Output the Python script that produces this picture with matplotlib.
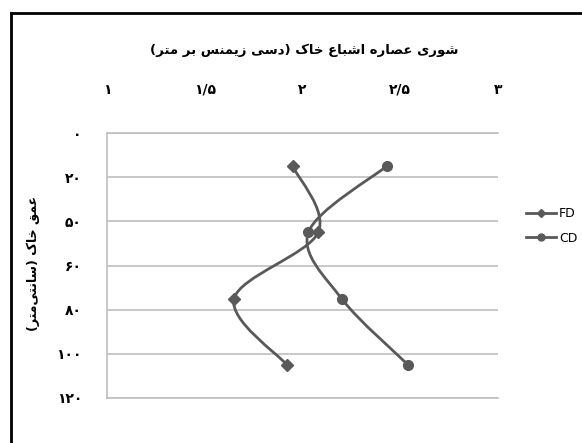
import matplotlib
matplotlib.use("Agg")
import matplotlib.pyplot as plt
from matplotlib.path import Path
from matplotlib.patches import PathPatch
from matplotlib.lines import Line2D
import numpy as np

# sample depths (cm) and saturated paste salinity (dS/m)
depth = [15, 45, 75, 105]
fd_ec = [1.95, 2.08, 1.65, 1.92]
cd_ec = [2.43, 2.03, 2.20, 2.54]
series_names = ['FD', 'CD']

x_ticks = [1, 1.5, 2, 2.5, 3]
x_labels = ['۱', '۱/۵', '۲', '۲/۵', '۳']
y_ticks = [0, 20, 40, 60, 80, 100, 120]
y_labels = ['۰', '۲۰', '۵۰', '۶۰', '۸۰', '۱۰۰', '۱۲۰']

title = 'شوری عصاره اشباع خاک (دسی زیمنس بر متر)'
ylabel = 'عمق خاک (سانتی\u200cمتر)'

GREY = '#595959'

# presentation forms: isolated, final, initial, medial
FORMS = {
    'ا': ('\uFE8D', '\uFE8E', None, None),
    'ب': ('\uFE8F', '\uFE90', '\uFE91', '\uFE92'),
    'ت': ('\uFE95', '\uFE96', '\uFE97', '\uFE98'),
    'خ': ('\uFEA5', '\uFEA6', '\uFEA7', '\uFEA8'),
    'د': ('\uFEA9', '\uFEAA', None, None),
    'ر': ('\uFEAD', '\uFEAE', None, None),
    'ز': ('\uFEAF', '\uFEB0', None, None),
    'س': ('\uFEB1', '\uFEB2', '\uFEB3', '\uFEB4'),
    'ش': ('\uFEB5', '\uFEB6', '\uFEB7', '\uFEB8'),
    'ص': ('\uFEB9', '\uFEBA', '\uFEBB', '\uFEBC'),
    'ع': ('\uFEC9', '\uFECA', '\uFECB', '\uFECC'),
    'ق': ('\uFED5', '\uFED6', '\uFED7', '\uFED8'),
    'م': ('\uFEE1', '\uFEE2', '\uFEE3', '\uFEE4'),
    'ن': ('\uFEE5', '\uFEE6', '\uFEE7', '\uFEE8'),
    'ه': ('\uFEE9', '\uFEEA', '\uFEEB', '\uFEEC'),
    'و': ('\uFEED', '\uFEEE', None, None),
    'ک': ('\uFB8E', '\uFB8F', '\uFB90', '\uFB91'),
    'ی': ('\uFBFC', '\uFBFD', '\uFBFE', '\uFBFF'),
}


def shape_fa(text):
    """Join Persian letters and put them in visual (left to right) order."""
    out = []
    for i, ch in enumerate(text):
        if ch == '\u200c':
            continue
        if ch not in FORMS:
            out.append(ch)
            continue
        prev = text[i - 1] if i > 0 else ''
        nxt = text[i + 1] if i + 1 < len(text) else ''
        join_prev = prev in FORMS and FORMS[prev][2] is not None
        join_next = nxt in FORMS and FORMS[ch][2] is not None
        f = FORMS[ch]
        if join_prev and join_next:
            out.append(f[3])
        elif join_prev:
            out.append(f[1])
        elif join_next:
            out.append(f[2])
        else:
            out.append(f[0])
    vis = ''.join(reversed(out))
    return vis.translate(str.maketrans('()', ')('))


def smooth_path(xs, ys):
    """Excel-like smoothed line through the points."""
    pts = np.column_stack([xs, ys]).astype(float)
    n = len(pts)
    verts = [pts[0]]
    codes = [Path.MOVETO]
    for i in range(n - 1):
        p0 = pts[max(i - 1, 0)]
        p1 = pts[i]
        p2 = pts[i + 1]
        p3 = pts[min(i + 2, n - 1)]
        verts += [p1 + (p2 - p0) / 6, p2 - (p3 - p1) / 6, p2]
        codes += [Path.CURVE4] * 3
    return Path(verts, codes)


plt.rcParams['font.family'] = ['DejaVu Sans']

fig = plt.figure(figsize=(5.82, 4.43), dpi=100)
ax = fig.add_axes([0.1838, 0.1016, 0.672, 0.598])

for vals, marker, size in [(fd_ec, 'D', 6), (cd_ec, 'o', 7)]:
    ax.add_patch(PathPatch(smooth_path(vals, depth), facecolor='none',
                           edgecolor=GREY, lw=2, zorder=3))
    ax.plot(vals, depth, linestyle='none', marker=marker, ms=size,
            color=GREY, zorder=4)

ax.set_xlim(1, 3)
ax.set_ylim(120, 0)
ax.set_xticks(x_ticks)
ax.set_xticklabels(x_labels, fontsize=10, fontweight='bold')
ax.set_yticks(y_ticks)
ax.set_yticklabels(y_labels, fontsize=10, fontweight='bold')
ax.xaxis.tick_top()
ax.tick_params(axis='x', length=0, pad=26)
ax.tick_params(axis='y', length=0, pad=18)
ax.grid(axis='y', color='#bfbfbf', lw=1.2)
ax.set_axisbelow(True)
ax.spines['right'].set_visible(False)
for side in ['top', 'bottom', 'left']:
    ax.spines[side].set_color('#bfbfbf')
    ax.spines[side].set_linewidth(1.2)

fig.text(0.522, 0.887, shape_fa(title), ha='center', va='center',
         fontsize=9.5, fontweight='bold')
fig.text(0.057, 0.406, shape_fa(ylabel), ha='center', va='center',
         rotation=90, fontsize=9, fontweight='bold')

handles = [Line2D([], [], color=GREY, lw=2, marker='D', ms=4),
           Line2D([], [], color=GREY, lw=2, marker='o', ms=5)]
fig.legend(handles, series_names, loc='center left',
           bbox_to_anchor=(0.885, 0.49), frameon=False, fontsize=9,
           handlelength=2.4, handletextpad=0.2, labelspacing=0.9)

# outer chart frame (left and top edges)
fig.add_artist(Line2D([0.019, 0.019], [0, 0.971], color='black', lw=2,
                      transform=fig.transFigure))
fig.add_artist(Line2D([0.019, 1], [0.971, 0.971], color='black', lw=2,
                      transform=fig.transFigure))

fig.savefig('out.png', dpi=100)
